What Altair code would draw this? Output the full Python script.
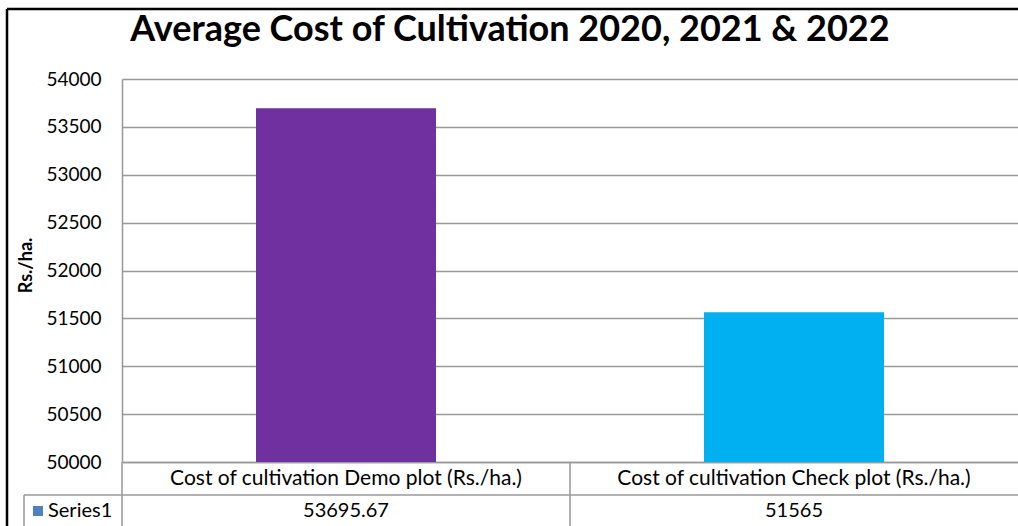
import altair as alt
import pandas as pd

title_text = "Average Cost of Cultivation 2020, 2021 & 2022"
categories = ["Cost of cultivation Demo plot (Rs./ha.)", "Cost of cultivation Check plot  (Rs./ha.)"]
values = [53695.67, 51565]
value_labels = ["53695.67", "51565"]
bar_colors = ["#7030A0", "#00B0F0"]
series_name = "Series1"
y_ticks = [50000, 50500, 51000, 51500, 52000, 52500, 53000, 53500, 54000]
y_min, y_max = 50000, 54000

W, H = 896, 383
FONT = "Lato"

df = pd.DataFrame({"cat": categories, "val": values, "lab": value_labels, "base": [y_min] * len(values)})

xenc = alt.X("cat:N", sort=categories,
             scale=alt.Scale(paddingInner=0, paddingOuter=0),
             axis=alt.Axis(title=None, labelAngle=0, labelFontSize=21, labelColor="#000",
                           labelFont=FONT, labelPadding=5, ticks=False,
                           domainColor="#999999", domainWidth=1.5, labelLimit=500))
yscale = alt.Scale(domain=[y_min, y_max], zero=False, nice=False)

bars = alt.Chart(df).mark_bar(size=180).encode(
    x=xenc,
    y=alt.Y("val:Q", scale=yscale,
            axis=alt.Axis(values=y_ticks, title="Rs./ha.", titleFont=FONT, titleFontSize=18,
                          titleFontWeight="bold", titleColor="#000", titleAngle=-90,
                          titleX=-91, titleY=186, titleBaseline="alphabetic",
                          labelFont=FONT, labelFontSize=19, labelColor="#000", labelPadding=21,
                          ticks=False, domainColor="#999999", domainWidth=1.5,
                          gridColor="#999999", gridWidth=1.5, format="d")),
    y2=alt.Y2("base:Q"),
    color=alt.Color("cat:N", sort=categories, scale=alt.Scale(domain=categories, range=bar_colors), legend=None),
)

vals = alt.Chart(df).mark_text(font=FONT, fontSize=20, color="#000", baseline="middle").encode(
    x=alt.X("cat:N", sort=categories),
    y=alt.value(432),
    text="lab:N",
)

one = alt.Data(values=[{"k": 1}])
def rule(x, x2, y, y2, color="#999999", w=1.5):
    return alt.Chart(one).mark_rule(color=color, strokeWidth=w).encode(
        x=alt.value(x), x2=alt.value(x2), y=alt.value(y), y2=alt.value(y2))

lines = [
    rule(-98, W + 5, 416, 416),         # table row separator
    rule(W / 2, W / 2, H, H + 70),      # table column separator
    rule(-98, -98, 416, H + 70),        # legend cell left border
    rule(0, 0, H, H + 70),              # extension of y axis line
    rule(-115, W + 5, -70, -70, "#000", 2.5),   # outer border top
    rule(-115, -115, -70, H + 70, "#000", 2.5), # outer border left
]

title = alt.Chart(one).mark_text(font=FONT, fontSize=36, fontWeight="bold", color="#000",
                                 baseline="middle", align="center").encode(
    x=alt.value(388), y=alt.value(-49), text=alt.value(title_text))

legend_sq = alt.Chart(one).mark_square(size=100, color="#4F81BD", opacity=1).encode(
    x=alt.value(-84), y=alt.value(432))
legend_txt = alt.Chart(one).mark_text(font=FONT, fontSize=20, color="#000", align="left",
                                      baseline="middle").encode(
    x=alt.value(-74), y=alt.value(432), text=alt.value(series_name))

chart = alt.layer(bars, vals, *lines, title, legend_sq, legend_txt).properties(
    width=W, height=H,
    padding={"left": 122, "top": 79, "right": 0, "bottom": 64},
    autosize=alt.AutoSizeParams(type="none"),
).configure_view(stroke=None).configure(background="white")

chart.save("out.html", embed_options={"renderer": "svg", "actions": False})
